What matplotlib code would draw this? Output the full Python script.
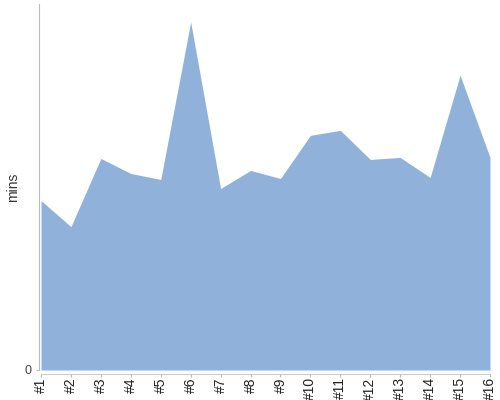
import matplotlib
matplotlib.use("Agg")
import matplotlib.pyplot as plt

categories = ["#1", "#2", "#3", "#4", "#5", "#6", "#7", "#8", "#9", "#10",
              "#11", "#12", "#13", "#14", "#15", "#16"]
values = [169, 143, 211, 196, 190, 347, 181, 199, 191, 234,
          239, 210, 212, 192, 294, 212]

plt.rcParams['font.family'] = ['Liberation Sans', 'DejaVu Sans']

fig = plt.figure(figsize=(5, 4), dpi=100)
ax = fig.add_axes([38.5 / 500, 1 - 370 / 400, (490 - 38.5) / 500, 366 / 400])

x = list(range(len(categories)))
ax.fill_between(x, values, 0, color='#90b2da', linewidth=0)

ax.set_xlim(-2.5 / 29.93, len(categories) - 1)
ax.set_ylim(0, 365)

ax.set_xticks(x)
ax.set_xticklabels(categories, fontsize=7, color='#222222')
ax.set_yticks([0])
ax.set_yticklabels(['0'], fontsize=9, color='#444444')

for s in ['top', 'right']:
    ax.spines[s].set_visible(False)
ax.spines['left'].set_color('#bbbbbb')
ax.spines['bottom'].set_color('#cccccc')
ax.spines['bottom'].set_position(('outward', 2.6))
ax.spines['bottom'].set_bounds(0, len(categories) - 1)
ax.tick_params(axis='x', colors='#bbbbbb', length=2.2, width=0.8, pad=0.5,
               labelcolor='#222222', labelrotation=90)
ax.tick_params(axis='y', colors='#bbbbbb', length=2.5, width=0.8, pad=2.5, labelcolor='#444444')

ax.set_ylabel('mins', fontsize=10, color='#333333', labelpad=3)

fig.savefig('out.png', dpi=100)
